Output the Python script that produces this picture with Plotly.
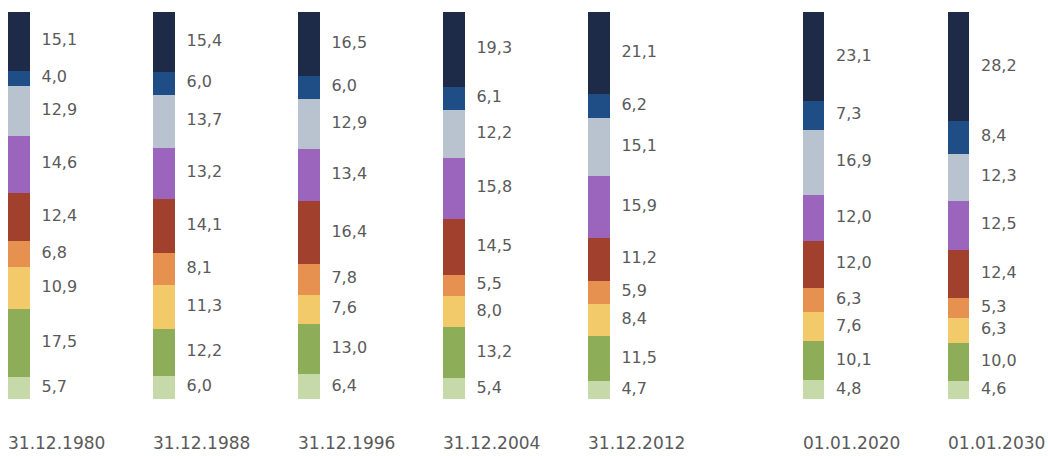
import plotly.graph_objects as go

dates = ["31.12.1980", "31.12.1988", "31.12.1996", "31.12.2004",
         "31.12.2012", "01.01.2020", "01.01.2030"]

# series listed bottom to top
light_green = [5.7, 6.0, 6.4, 5.4, 4.7, 4.8, 4.6]
green       = [17.5, 12.2, 13.0, 13.2, 11.5, 10.1, 10.0]
yellow      = [10.9, 11.3, 7.6, 8.0, 8.4, 7.6, 6.3]
orange      = [6.8, 8.1, 7.8, 5.5, 5.9, 6.3, 5.3]
brown       = [12.4, 14.1, 16.4, 14.5, 11.2, 12.0, 12.4]
purple      = [14.6, 13.2, 13.4, 15.8, 15.9, 12.0, 12.5]
grey        = [12.9, 13.7, 12.9, 12.2, 15.1, 16.9, 12.3]
blue        = [4.0, 6.0, 6.0, 6.1, 6.2, 7.3, 8.4]
navy        = [15.1, 15.4, 16.5, 19.3, 21.1, 23.1, 28.2]

series = [light_green, green, yellow, orange, brown, purple, grey, blue, navy]
colors = ["#c6d9a9", "#8dad58", "#f2ca6a", "#e6914f", "#a2402e",
          "#9b64bd", "#b8c3cf", "#1f4e86", "#1d2b48"]

# x positions: categories, with a wider gap before the forecast columns
xpos = [i + (0.48 if i >= 5 else 0.0) for i in range(len(dates))]
totals = [sum(s[i] for s in series) for i in range(len(dates))]

fig = go.Figure()
for vals, col in zip(series, colors):
    fig.add_trace(go.Bar(x=xpos, y=vals, marker=dict(color=col, line=dict(width=0)),
                         width=0.15, showlegend=False, hoverinfo="skip"))

# labels to the right of each segment
lx, ly, lt = [], [], []
for i in range(len(dates)):
    cum = 0.0
    for vals in series:
        v = vals[i]
        mid = (cum + v / 2) / totals[i] * 100
        cum += v
        lx.append(xpos[i] + 0.155)
        ly.append(mid)
        lt.append(f"{v:.1f}".replace(".", ","))
fig.add_trace(go.Scatter(x=lx, y=ly, text=lt, mode="text", textposition="middle right",
                         textfont=dict(family="DejaVu Sans", size=16, color="#5a5a5a"),
                         showlegend=False, hoverinfo="skip"))

for i, d in enumerate(dates):
    fig.add_annotation(x=xpos[i] + 0.26, y=0, xref="x", yref="y", text=d,
                       showarrow=False, yanchor="top", yshift=-32,
                       font=dict(family="DejaVu Sans", size=17, color="#5a5a5a"))

fig.update_layout(
    barmode="stack", barnorm="percent",
    width=1048, height=456,
    margin=dict(l=0, r=0, t=12, b=57),
    plot_bgcolor="white", paper_bgcolor="white",
    xaxis=dict(range=[-0.131, 7.097], showticklabels=False, showgrid=False,
               zeroline=False, showline=False, fixedrange=True),
    yaxis=dict(range=[0, 100], showticklabels=False, showgrid=False,
               zeroline=False, showline=False, fixedrange=True),
)

fig.write_html("out.html")
